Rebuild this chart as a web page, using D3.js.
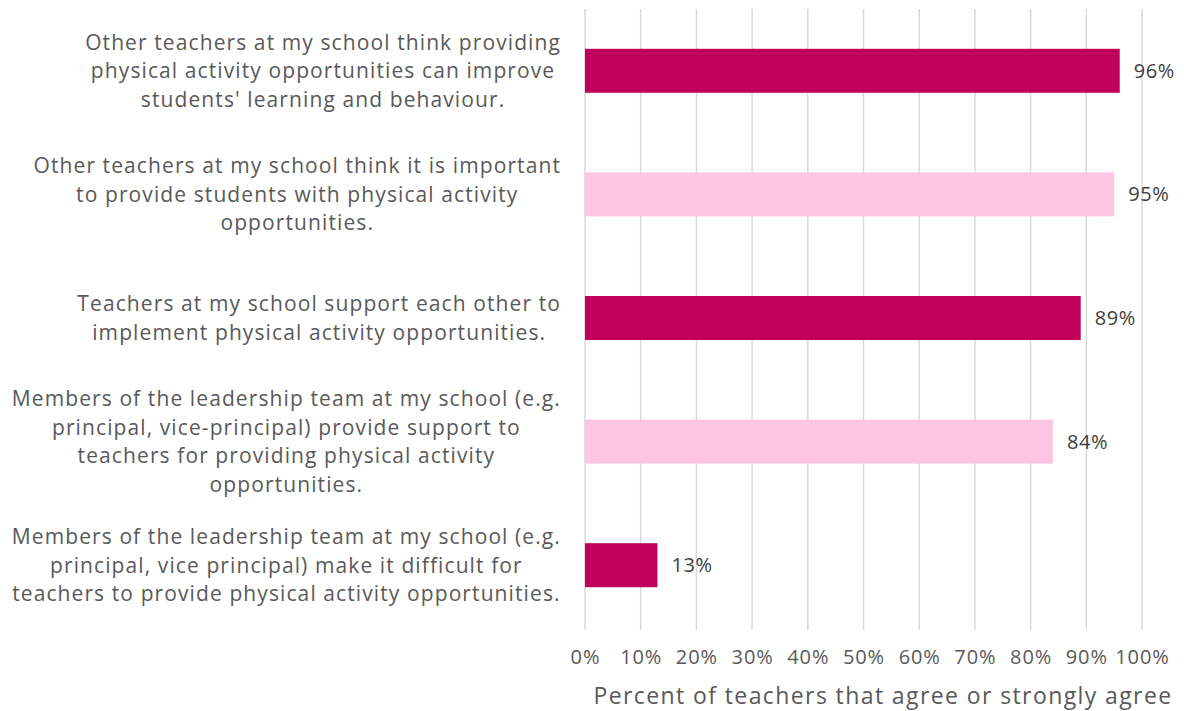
<!DOCTYPE html>
<html>
<head>
<meta charset="utf-8">
<script src="https://cdn.jsdelivr.net/npm/d3@7"></script>
<style>
  body { margin: 0; background: #fff; }
  text { font-family: "Open Sans", sans-serif; }
</style>
</head>
<body>
<svg width="1184" height="711"></svg>
<script>
// statements (each label split into its lines as in the original)
var labels = [
  ["Other teachers at my school think providing", "physical activity opportunities can improve", "students' learning and behaviour."],
  ["Other teachers at my school think it is important", "to provide students with physical activity", "opportunities."],
  ["Teachers at my school support each other to", "implement physical activity opportunities."],
  ["Members of the leadership team at my school (e.g.", "principal, vice-principal) provide support to", "teachers for providing physical activity", "opportunities."],
  ["Members of the leadership team at my school (e.g.", "principal, vice principal) make it difficult for", "teachers to provide physical activity opportunities."]
];
var values = [96, 95, 89, 84, 13];
var barColors = ["#C0005A", "#FFC5E2", "#C0005A", "#FFC5E2", "#C0005A"];
var ticks = [0, 10, 20, 30, 40, 50, 60, 70, 80, 90, 100];
var axisTitle = "Percent of teachers that agree or strongly agree";

var svg = d3.select("svg");
var plot = {left: 585, right: 1142, top: 9, bottom: 627};

var x = d3.scaleLinear().domain([0, 100]).range([plot.left, plot.right]);
var y = d3.scaleBand()
    .domain(d3.range(values.length))
    .range([plot.top, plot.bottom])
    .paddingInner(0.644)
    .paddingOuter(0.322);

// gridlines
svg.append("g")
  .selectAll("line")
  .data(ticks)
  .enter().append("line")
    .attr("x1", d => x(d)).attr("x2", d => x(d))
    .attr("y1", plot.top).attr("y2", plot.bottom + 3)
    .attr("stroke", "#d9d9d9")
    .attr("stroke-width", 1.5);

// bars
svg.append("g")
  .selectAll("rect")
  .data(values)
  .enter().append("rect")
    .attr("x", x(0))
    .attr("y", (d, i) => y(i))
    .attr("width", d => x(d) - x(0))
    .attr("height", y.bandwidth())
    .attr("fill", (d, i) => barColors[i]);

// value labels
svg.append("g")
  .selectAll("text")
  .data(values)
  .enter().append("text")
    .attr("x", d => x(d) + 14)
    .attr("y", (d, i) => y(i) + y.bandwidth() / 2)
    .attr("dy", "0.35em")
    .attr("font-size", 20)
    .attr("letter-spacing", 0.6)
    .attr("fill", "#404040")
    .text(d => d + "%");

// x axis tick labels
var xAxis = d3.axisBottom(x)
    .tickValues(ticks)
    .tickSize(0)
    .tickPadding(0)
    .tickFormat(d => d + "%");
var ax = svg.append("g")
    .attr("transform", "translate(0,650)")
    .call(xAxis);
ax.select(".domain").remove();
ax.selectAll("text")
    .attr("font-size", 20)
    .attr("letter-spacing", 0.9)
    .attr("fill", "#595959")
    .attr("font-family", "'Open Sans', sans-serif");

// axis title
svg.append("text")
    .attr("x", 883)
    .attr("y", 704)
    .attr("text-anchor", "middle")
    .attr("font-size", 23)
    .attr("letter-spacing", 1.4)
    .attr("fill", "#595959")
    .text(axisTitle);

// category labels, centred lines, block right aligned to the axis
var lineH = 28.5;
var cat = svg.append("g");
labels.forEach(function(lines, i) {
  var g = cat.append("g");
  var cy = y(i) + y.bandwidth() / 2;
  var t = g.selectAll("text")
    .data(lines)
    .enter().append("text")
      .attr("y", (d, j) => cy + (j - (lines.length - 1) / 2) * lineH)
      .attr("dy", "0.35em")
      .attr("text-anchor", "middle")
      .attr("font-size", 21)
      .attr("letter-spacing", 1.1)
      .attr("fill", "#595959")
      .text(d => d);
  var maxW = d3.max(t.nodes(), n => n.getComputedTextLength());
  t.attr("x", 561 - maxW / 2);
});
</script>
</body>
</html>
